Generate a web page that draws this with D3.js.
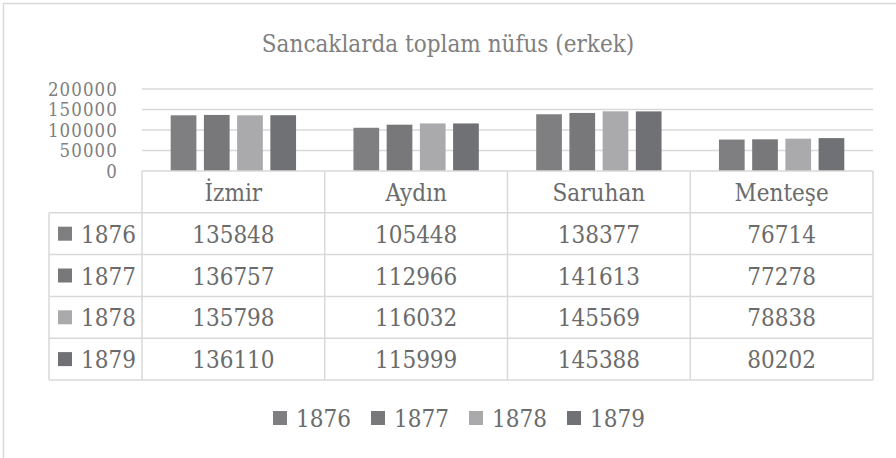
<!DOCTYPE html>
<html>
<head>
<meta charset="utf-8">
<script src="https://cdn.jsdelivr.net/npm/d3@7"></script>
<style>
  body { margin: 0; background: #fff; }
</style>
</head>
<body>
<div id="chart"></div>
<script>
(function() {

  const title = 'Sancaklarda toplam nüfus (erkek)';
  const categories = ['İzmir', 'Aydın', 'Saruhan', 'Menteşe'];
  const years = ['1876', '1877', '1878', '1879'];
  const values1876 = [135848, 105448, 138377, 76714];
  const values1877 = [136757, 112966, 141613, 77278];
  const values1878 = [135798, 116032, 145569, 78838];
  const values1879 = [136110, 115999, 145388, 80202];
  const yTicks = [0, 50000, 100000, 150000, 200000];
  const colors = ['#7f7f81', '#78787b', '#aaaaad', '#707174'];

  const series = [values1876, values1877, values1878, values1879];

  const width = 896, height = 458;
  const plot = { left: 142, right: 873, top: 89, bottom: 171 };
  const rowH = 41.8;
  const keyLeft = 49;
  const textColor = '#6b6b6b';
  const gridColor = '#d9d9d9';
  const serif = "'DejaVu Serif Condensed', 'DejaVu Serif', serif";

  const svg = d3.select('#chart').append('svg')
    .attr('width', width)
    .attr('height', height)
    .style('font-family', serif)
    .style('font-stretch', 'condensed')
    .style('display', 'block');

  // chart area border (runs off the right/bottom edges)
  svg.append('rect')
    .attr('x', 3.5).attr('y', 3.5)
    .attr('width', width + 20).attr('height', height + 20)
    .attr('fill', '#fff')
    .attr('stroke', gridColor)
    .attr('stroke-width', 1.5);

  svg.append('text')
    .attr('x', 448)
    .attr('y', 52)
    .attr('text-anchor', 'middle')
    .attr('font-size', 24)
    .attr('fill', '#808080')
    .text(title);

  const x0 = d3.scaleBand()
    .domain(categories)
    .range([plot.left, plot.right])
    .paddingInner(0.314)
    .paddingOuter(0.157);

  const x1 = d3.scaleBand()
    .domain(years)
    .range([0, x0.bandwidth()])
    .paddingInner(0.226);

  const y = d3.scaleLinear()
    .domain([0, 200000])
    .range([plot.bottom, plot.top]);

  // gridlines
  svg.append('g')
    .selectAll('line')
    .data(yTicks.slice(1))
    .enter().append('line')
      .attr('x1', plot.left).attr('x2', plot.right)
      .attr('y1', d => y(d)).attr('y2', d => y(d))
      .attr('stroke', gridColor)
      .attr('stroke-width', 1.5);

  // y axis labels (packed tight, as in the original)
  svg.append('g')
    .selectAll('text')
    .data(yTicks)
    .enter().append('text')
      .attr('x', 118)
      .attr('y', d => y(d) + 6.5)
      .attr('text-anchor', 'end')
      .attr('font-size', 18.5)
      .attr('letter-spacing', 1.1)
      .attr('fill', '#808080')
      .text(d => d);

  // bars
  const groups = svg.append('g')
    .selectAll('g')
    .data(categories)
    .enter().append('g')
      .attr('transform', d => `translate(${x0(d)},0)`);

  groups.selectAll('rect')
    .data((c, ci) => years.map((yr, si) => ({ year: yr, si: si, value: series[si][ci] })))
    .enter().append('rect')
      .attr('x', d => x1(d.year))
      .attr('y', d => y(d.value))
      .attr('width', x1.bandwidth())
      .attr('height', d => y(0) - y(d.value))
      .attr('fill', d => colors[d.si]);

  // data table
  const table = svg.append('g');
  const step = x0.step();
  const colEdges = categories.map((c, i) => plot.left + i * step).concat([plot.right]);
  const tableBottom = plot.bottom + rowH * (years.length + 1);

  // horizontal lines
  table.append('line')
    .attr('x1', plot.left).attr('x2', plot.right)
    .attr('y1', plot.bottom).attr('y2', plot.bottom)
    .attr('stroke', gridColor).attr('stroke-width', 1.5);
  d3.range(1, years.length + 2).forEach(k => {
    table.append('line')
      .attr('x1', keyLeft).attr('x2', plot.right)
      .attr('y1', plot.bottom + rowH * k).attr('y2', plot.bottom + rowH * k)
      .attr('stroke', gridColor).attr('stroke-width', 1.5);
  });
  // vertical lines
  colEdges.forEach(xv => {
    table.append('line')
      .attr('x1', xv).attr('x2', xv)
      .attr('y1', plot.bottom).attr('y2', tableBottom)
      .attr('stroke', gridColor).attr('stroke-width', 1.5);
  });
  table.append('line')
    .attr('x1', keyLeft).attr('x2', keyLeft)
    .attr('y1', plot.bottom + rowH).attr('y2', tableBottom)
    .attr('stroke', gridColor).attr('stroke-width', 1.5);

  // header
  table.selectAll('.hdr')
    .data(categories)
    .enter().append('text')
      .attr('class', 'hdr')
      .attr('x', d => x0(d) + x0.bandwidth() / 2)
      .attr('y', plot.bottom + rowH / 2 + 9)
      .attr('text-anchor', 'middle')
      .attr('font-size', 24)
      .attr('fill', textColor)
      .text(d => d);

  years.forEach((yr, si) => {
    const rowMid = plot.bottom + rowH * (si + 1) + rowH / 2;
    table.append('rect')
      .attr('x', 58).attr('y', rowMid - 7)
      .attr('width', 14).attr('height', 14)
      .attr('fill', colors[si]);
    table.append('text')
      .attr('x', 81).attr('y', rowMid + 9)
      .attr('font-size', 24)
      .attr('fill', textColor)
      .text(yr);
    categories.forEach((c, ci) => {
      table.append('text')
        .attr('x', x0(c) + x0.bandwidth() / 2)
        .attr('y', rowMid + 9)
        .attr('text-anchor', 'middle')
        .attr('font-size', 24)
        .attr('fill', textColor)
        .text(series[si][ci]);
    });
  });

  // legend
  const legend = svg.append('g')
    .selectAll('g')
    .data(years)
    .enter().append('g')
      .attr('transform', (d, i) => `translate(${273 + i * 98}, 418)`);
  legend.append('rect')
    .attr('x', 0).attr('y', -7)
    .attr('width', 14).attr('height', 14)
    .attr('fill', (d, i) => colors[i]);
  legend.append('text')
    .attr('x', 23).attr('y', 9)
    .attr('font-size', 24)
    .attr('fill', textColor)
    .text(d => d);

}());
</script>
</body>
</html>
